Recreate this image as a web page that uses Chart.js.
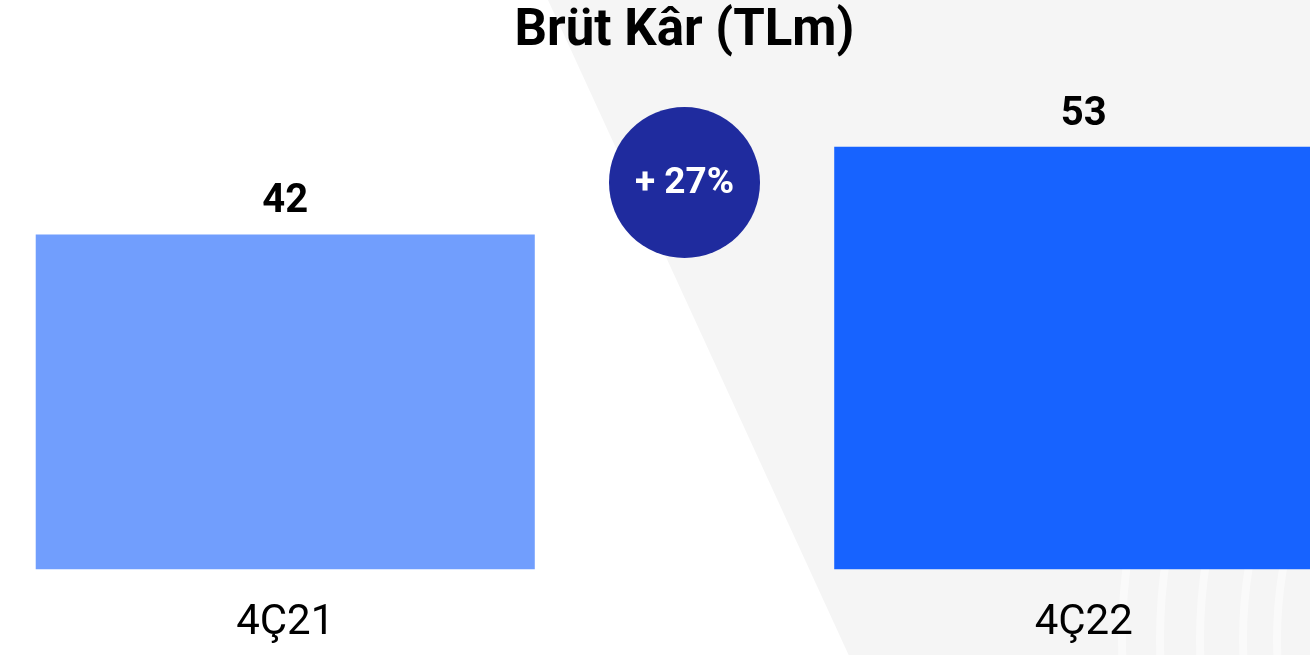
<!DOCTYPE html>
<html>
<head>
<meta charset="utf-8">
<script src="https://cdn.jsdelivr.net/npm/chart.js@4/dist/chart.umd.min.js"></script>
<style>
  html, body { margin: 0; padding: 0; background: #ffffff; overflow: hidden; width: 1310px; height: 655px; }
  #wrap { position: absolute; left: -114px; top: 0; width: 1597px; height: 677px; }
</style>
</head>
<body>
<div id="wrap"><canvas id="canvas"></canvas></div>
<script>
// values
var quarters = ['4Ç21', '4Ç22'];
var grossProfit = [42, 53];
var barColors = ['#719efd', '#1763ff'];
var growthText = '+ 27%';

// grey slanted backdrop on the right side, with faint rings
var backdrop = {
  id: 'backdrop',
  beforeDraw: function(chart) {
    var ctx = chart.ctx;
    var off = 114;
    ctx.save();
    ctx.fillStyle = '#f5f5f5';
    ctx.beginPath();
    ctx.moveTo(548 + off, 0);
    ctx.lineTo(548 + off + 0.459 * chart.height, chart.height);
    ctx.lineTo(chart.width, chart.height);
    ctx.lineTo(chart.width, 0);
    ctx.closePath();
    ctx.fill();
    ctx.clip();
    ctx.strokeStyle = 'rgba(255,255,255,0.5)';
    ctx.lineWidth = 8;
    [578, 540, 500, 457, 423].forEach(function(r) {
      ctx.beginPath();
      ctx.arc(1700 + off, 640, r, Math.PI * 0.8, Math.PI * 1.2);
      ctx.stroke();
    });
    ctx.restore();
  }
};

// values on top of the bars + growth bubble
var labelsOnTop = {
  id: 'labelsOnTop',
  afterDatasetsDraw: function(chart) {
    var ctx = chart.ctx;
    var meta = chart.getDatasetMeta(0);
    ctx.save();
    ctx.fillStyle = '#000000';
    ctx.font = 'bold 40px Roboto';
    ctx.textAlign = 'center';
    ctx.textBaseline = 'alphabetic';
    meta.data.forEach(function(bar, i) {
      ctx.fillText(grossProfit[i], bar.x, bar.y - 22);
    });

    var x = (meta.data[0].x + meta.data[1].x) / 2;
    var y = chart.scales.y.getPixelForValue(48.5);
    ctx.fillStyle = '#1f2b9e';
    ctx.beginPath();
    ctx.arc(x, y, 75.5, 0, Math.PI * 2);
    ctx.fill();
    ctx.fillStyle = '#ffffff';
    ctx.font = 'bold 37px Roboto';
    ctx.textBaseline = 'middle';
    ctx.fillText(growthText, x, y + 1);
    ctx.restore();
  }
};

var ctx = document.getElementById('canvas').getContext('2d');
var chart = new Chart(ctx, {
  type: 'bar',
  data: {
    labels: quarters,
    datasets: [{
      data: grossProfit,
      backgroundColor: barColors,
      borderWidth: 0,
      categoryPercentage: 1,
      barPercentage: 0.625
    }]
  },
  options: {
    responsive: true,
    maintainAspectRatio: false,
    animation: false,
    events: [],
    layout: { padding: 0 },
    plugins: {
      legend: { display: false },
      tooltip: { enabled: false },
      title: {
        display: true,
        text: 'Brüt Kâr (TLm)',
        color: '#000000',
        font: { family: 'Roboto', size: 51, weight: 'bold', lineHeight: 1.2 },
        padding: { top: 2, bottom: 27.6 }
      }
    },
    scales: {
      x: {
        grid: { display: false, drawTicks: false },
        border: { display: false },
        ticks: {
          color: '#000000',
          padding: 28.6,
          font: { family: 'Roboto', size: 42, lineHeight: 1.2 }
        }
      },
      y: {
        display: false,
        min: 0,
        max: 60
      }
    }
  },
  plugins: [backdrop, labelsOnTop]
});
</script>
</body>
</html>
